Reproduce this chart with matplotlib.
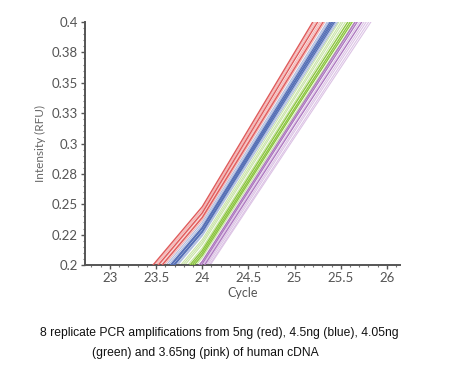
import matplotlib.pyplot as plt
from matplotlib.ticker import MultipleLocator

# fluorescence at cycles 23..26 for each replicate (lines are drawn between cycles)
cycles = [23, 24, 25, 26]

red = [
    [0.158, 0.248, 0.375, 0.502],
    [0.157, 0.246, 0.373, 0.499],
    [0.155, 0.245, 0.371, 0.496],
    [0.153, 0.243, 0.369, 0.493],
    [0.152, 0.242, 0.366, 0.491],
    [0.150, 0.240, 0.364, 0.488],
    [0.149, 0.239, 0.362, 0.485],
    [0.147, 0.237, 0.360, 0.482],
]
blue = [
    [0.145, 0.235, 0.357, 0.479],
    [0.143, 0.233, 0.355, 0.477],
    [0.141, 0.231, 0.353, 0.475],
    [0.140, 0.230, 0.351, 0.473],
    [0.138, 0.228, 0.350, 0.470],
    [0.137, 0.227, 0.348, 0.468],
    [0.135, 0.225, 0.346, 0.466],
    [0.134, 0.224, 0.344, 0.464],
]
green = [
    [0.131, 0.221, 0.342, 0.463],
    [0.129, 0.219, 0.339, 0.460],
    [0.127, 0.217, 0.337, 0.457],
    [0.124, 0.214, 0.334, 0.454],
    [0.122, 0.212, 0.332, 0.450],
    [0.120, 0.210, 0.329, 0.447],
    [0.118, 0.208, 0.327, 0.444],
    [0.116, 0.206, 0.324, 0.441],
]
pink = [
    [0.113, 0.203, 0.322, 0.441],
    [0.111, 0.201, 0.320, 0.438],
    [0.109, 0.199, 0.317, 0.435],
    [0.107, 0.197, 0.315, 0.432],
    [0.105, 0.195, 0.312, 0.429],
    [0.103, 0.193, 0.310, 0.426],
    [0.101, 0.191, 0.307, 0.423],
    [0.100, 0.190, 0.305, 0.420],
]

# which replicates are drawn in the strong shade
strong_red = [0, 3, 6]
strong_blue = [2, 3, 4, 5]
strong_green = [4, 5, 6]
strong_pink = [0, 1, 3]

y_ticks = [0.2, 0.225, 0.25, 0.275, 0.3, 0.325, 0.35, 0.375, 0.4]
y_labels = ["0.2", "0.22", "0.25", "0.28", "0.3", "0.33", "0.35", "0.38", "0.4"]
x_ticks = [23, 23.5, 24, 24.5, 25, 25.5, 26]
x_labels = ["23", "23.5", "24", "24.5", "25", "25.5", "26"]

caption_1 = "8 replicate PCR amplifications from 5ng (red), 4.5ng (blue), 4.05ng"
caption_2 = "(green) and 3.65ng (pink) of human cDNA"

fig = plt.figure(figsize=(4.76, 3.72), dpi=100)
ax = fig.add_axes([0.1786, 0.2876, 0.6614, 0.6532])

groups = [
    (red, strong_red, "#e05a5a", "#f3b5b5"),
    (blue, strong_blue, "#5670b6", "#aebcdf"),
    (green, strong_green, "#8cc540", "#c9e4a6"),
    (pink, strong_pink, "#ad78bf", "#dcc3e5"),
]
for data, strong, dark, pale in groups:
    for i, vals in enumerate(data):
        if i in strong:
            ax.plot(cycles, vals, color=dark, lw=1.0, zorder=3)
        else:
            ax.plot(cycles, vals, color=pale, lw=0.8, zorder=2)

ax.set_xlim(22.73, 26.14)
ax.set_ylim(0.2, 0.4)
ax.set_xticks(x_ticks)
ax.set_xticklabels(x_labels)
ax.set_yticks(y_ticks)
ax.set_yticklabels(y_labels)
ax.xaxis.set_minor_locator(MultipleLocator(0.1))
ax.yaxis.set_minor_locator(MultipleLocator(0.005))

for s in ["top", "right"]:
    ax.spines[s].set_visible(False)
for s in ["left", "bottom"]:
    ax.spines[s].set_color("#555555")
    ax.spines[s].set_linewidth(1.4)

ax.tick_params(which="major", length=3, width=1, color="#555555",
               labelcolor="#555555", labelsize=9.5, pad=2)
ax.tick_params(which="minor", length=1.5, width=0.8, color="#777777")
for lab in ax.get_xticklabels() + ax.get_yticklabels():
    lab.set_fontfamily("Lato")

ax.set_xlabel("Cycle", fontsize=9, color="#555555", family="Lato", labelpad=2)
ax.set_ylabel("Intensity (RFU)", fontsize=8.5, color="#666666", family="Lato", labelpad=4)

fig.text(40 / 476, 1 - 333 / 372, caption_1, fontsize=8.7, family="Liberation Sans",
         ha="left", va="center", color="#111111")
fig.text(92 / 476, 1 - 353 / 372, caption_2, fontsize=8.7, family="Liberation Sans",
         ha="left", va="center", color="#111111")

fig.savefig("out.png", dpi=100)
